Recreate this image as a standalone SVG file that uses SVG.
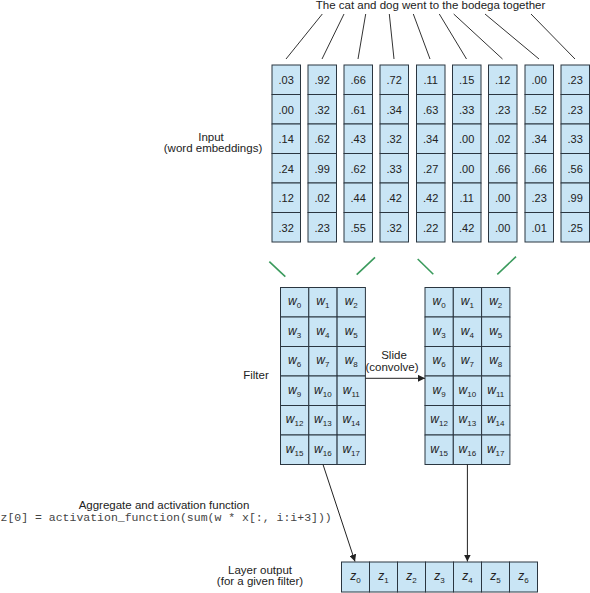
<svg xmlns="http://www.w3.org/2000/svg" width="590" height="593" viewBox="0 0 590 593">
<defs>
<style>
.bg{fill:#ffffff}
.cell{fill:#c9e5f5;stroke:#2b3640;stroke-width:1}
.t{font-family:"Liberation Sans",Arial,sans-serif;font-size:11.5px;fill:#222;text-anchor:middle}
.num{font-family:"Liberation Sans",Arial,sans-serif;font-size:11px;fill:#222;text-anchor:middle}
.w{font-family:"Liberation Sans",Arial,sans-serif;font-size:12px;font-style:italic;fill:#222;text-anchor:middle}
.sub{font-size:8px;font-style:normal}
.code{font-family:"Liberation Mono","Courier New",monospace;font-size:11.5px;fill:#444;text-anchor:start}
.ln{stroke:#333;stroke-width:1;fill:none}
.gr{stroke:#3a9a5c;stroke-width:1.6;fill:none}
.arr{stroke:#222;stroke-width:1;fill:none;marker-end:url(#ah)}
</style>
<marker id="ah" viewBox="0 0 10 10" refX="10" refY="5" markerWidth="7" markerHeight="7" markerUnits="userSpaceOnUse" orient="auto">
<path d="M0,0 L10,5 L0,10 z" fill="#222"/>
</marker>
</defs>
<rect class="bg" x="0" y="0" width="590" height="593"/>

<g id="sentence">
<text class="t" x="430.5" y="9">The cat and dog went to the bodega together</text>
</g>

<g id="input-label">
<text class="t" x="211" y="141">Input</text>
<text class="t" x="213" y="152">(word embeddings)</text>
</g>

<g id="input-embeddings">
<g id="word-the">
<rect class="cell" x="272" y="65" width="28.5" height="29.5"/><rect class="cell" x="272" y="94.5" width="28.5" height="29.5"/><rect class="cell" x="272" y="124" width="28.5" height="29.5"/><rect class="cell" x="272" y="153.5" width="28.5" height="29.5"/><rect class="cell" x="272" y="183" width="28.5" height="29.5"/><rect class="cell" x="272" y="212.5" width="28.5" height="29.5"/>
<text class="num" x="286.2" y="84">.03</text><text class="num" x="286.2" y="113.5">.00</text><text class="num" x="286.2" y="143">.14</text><text class="num" x="286.2" y="172.5">.24</text><text class="num" x="286.2" y="202">.12</text><text class="num" x="286.2" y="231.5">.32</text>
</g>
<g id="word-cat">
<rect class="cell" x="308" y="65" width="28.5" height="29.5"/><rect class="cell" x="308" y="94.5" width="28.5" height="29.5"/><rect class="cell" x="308" y="124" width="28.5" height="29.5"/><rect class="cell" x="308" y="153.5" width="28.5" height="29.5"/><rect class="cell" x="308" y="183" width="28.5" height="29.5"/><rect class="cell" x="308" y="212.5" width="28.5" height="29.5"/>
<text class="num" x="322.2" y="84">.92</text><text class="num" x="322.2" y="113.5">.32</text><text class="num" x="322.2" y="143">.62</text><text class="num" x="322.2" y="172.5">.99</text><text class="num" x="322.2" y="202">.02</text><text class="num" x="322.2" y="231.5">.23</text>
</g>
<g id="word-and">
<rect class="cell" x="344" y="65" width="28.5" height="29.5"/><rect class="cell" x="344" y="94.5" width="28.5" height="29.5"/><rect class="cell" x="344" y="124" width="28.5" height="29.5"/><rect class="cell" x="344" y="153.5" width="28.5" height="29.5"/><rect class="cell" x="344" y="183" width="28.5" height="29.5"/><rect class="cell" x="344" y="212.5" width="28.5" height="29.5"/>
<text class="num" x="358.2" y="84">.66</text><text class="num" x="358.2" y="113.5">.61</text><text class="num" x="358.2" y="143">.43</text><text class="num" x="358.2" y="172.5">.62</text><text class="num" x="358.2" y="202">.44</text><text class="num" x="358.2" y="231.5">.55</text>
</g>
<g id="word-dog">
<rect class="cell" x="380" y="65" width="28.5" height="29.5"/><rect class="cell" x="380" y="94.5" width="28.5" height="29.5"/><rect class="cell" x="380" y="124" width="28.5" height="29.5"/><rect class="cell" x="380" y="153.5" width="28.5" height="29.5"/><rect class="cell" x="380" y="183" width="28.5" height="29.5"/><rect class="cell" x="380" y="212.5" width="28.5" height="29.5"/>
<text class="num" x="394.2" y="84">.72</text><text class="num" x="394.2" y="113.5">.34</text><text class="num" x="394.2" y="143">.32</text><text class="num" x="394.2" y="172.5">.33</text><text class="num" x="394.2" y="202">.42</text><text class="num" x="394.2" y="231.5">.32</text>
</g>
<g id="word-went">
<rect class="cell" x="416.5" y="65" width="28.5" height="29.5"/><rect class="cell" x="416.5" y="94.5" width="28.5" height="29.5"/><rect class="cell" x="416.5" y="124" width="28.5" height="29.5"/><rect class="cell" x="416.5" y="153.5" width="28.5" height="29.5"/><rect class="cell" x="416.5" y="183" width="28.5" height="29.5"/><rect class="cell" x="416.5" y="212.5" width="28.5" height="29.5"/>
<text class="num" x="430.7" y="84">.11</text><text class="num" x="430.7" y="113.5">.63</text><text class="num" x="430.7" y="143">.34</text><text class="num" x="430.7" y="172.5">.27</text><text class="num" x="430.7" y="202">.42</text><text class="num" x="430.7" y="231.5">.22</text>
</g>
<g id="word-to">
<rect class="cell" x="452.5" y="65" width="28.5" height="29.5"/><rect class="cell" x="452.5" y="94.5" width="28.5" height="29.5"/><rect class="cell" x="452.5" y="124" width="28.5" height="29.5"/><rect class="cell" x="452.5" y="153.5" width="28.5" height="29.5"/><rect class="cell" x="452.5" y="183" width="28.5" height="29.5"/><rect class="cell" x="452.5" y="212.5" width="28.5" height="29.5"/>
<text class="num" x="466.7" y="84">.15</text><text class="num" x="466.7" y="113.5">.33</text><text class="num" x="466.7" y="143">.00</text><text class="num" x="466.7" y="172.5">.00</text><text class="num" x="466.7" y="202">.11</text><text class="num" x="466.7" y="231.5">.42</text>
</g>
<g id="word-the2">
<rect class="cell" x="488.5" y="65" width="28.5" height="29.5"/><rect class="cell" x="488.5" y="94.5" width="28.5" height="29.5"/><rect class="cell" x="488.5" y="124" width="28.5" height="29.5"/><rect class="cell" x="488.5" y="153.5" width="28.5" height="29.5"/><rect class="cell" x="488.5" y="183" width="28.5" height="29.5"/><rect class="cell" x="488.5" y="212.5" width="28.5" height="29.5"/>
<text class="num" x="502.7" y="84">.12</text><text class="num" x="502.7" y="113.5">.23</text><text class="num" x="502.7" y="143">.02</text><text class="num" x="502.7" y="172.5">.66</text><text class="num" x="502.7" y="202">.00</text><text class="num" x="502.7" y="231.5">.00</text>
</g>
<g id="word-bodega">
<rect class="cell" x="525" y="65" width="28.5" height="29.5"/><rect class="cell" x="525" y="94.5" width="28.5" height="29.5"/><rect class="cell" x="525" y="124" width="28.5" height="29.5"/><rect class="cell" x="525" y="153.5" width="28.5" height="29.5"/><rect class="cell" x="525" y="183" width="28.5" height="29.5"/><rect class="cell" x="525" y="212.5" width="28.5" height="29.5"/>
<text class="num" x="539.2" y="84">.00</text><text class="num" x="539.2" y="113.5">.52</text><text class="num" x="539.2" y="143">.34</text><text class="num" x="539.2" y="172.5">.66</text><text class="num" x="539.2" y="202">.23</text><text class="num" x="539.2" y="231.5">.01</text>
</g>
<g id="word-together">
<rect class="cell" x="561" y="65" width="28.5" height="29.5"/><rect class="cell" x="561" y="94.5" width="28.5" height="29.5"/><rect class="cell" x="561" y="124" width="28.5" height="29.5"/><rect class="cell" x="561" y="153.5" width="28.5" height="29.5"/><rect class="cell" x="561" y="183" width="28.5" height="29.5"/><rect class="cell" x="561" y="212.5" width="28.5" height="29.5"/>
<text class="num" x="575.2" y="84">.23</text><text class="num" x="575.2" y="113.5">.23</text><text class="num" x="575.2" y="143">.33</text><text class="num" x="575.2" y="172.5">.56</text><text class="num" x="575.2" y="202">.99</text><text class="num" x="575.2" y="231.5">.25</text>
</g>
</g>

<g id="filter-label">
<text class="t" x="256" y="379">Filter</text>
</g>

<g id="filter-1">
<rect class="cell" x="280.5" y="287.5" width="28.3" height="29.5"/><rect class="cell" x="308.8" y="287.5" width="28.3" height="29.5"/><rect class="cell" x="337.1" y="287.5" width="28.3" height="29.5"/>
<rect class="cell" x="280.5" y="317" width="28.3" height="29.5"/><rect class="cell" x="308.8" y="317" width="28.3" height="29.5"/><rect class="cell" x="337.1" y="317" width="28.3" height="29.5"/>
<rect class="cell" x="280.5" y="346.5" width="28.3" height="29.5"/><rect class="cell" x="308.8" y="346.5" width="28.3" height="29.5"/><rect class="cell" x="337.1" y="346.5" width="28.3" height="29.5"/>
<rect class="cell" x="280.5" y="376" width="28.3" height="29.5"/><rect class="cell" x="308.8" y="376" width="28.3" height="29.5"/><rect class="cell" x="337.1" y="376" width="28.3" height="29.5"/>
<rect class="cell" x="280.5" y="405.5" width="28.3" height="29.5"/><rect class="cell" x="308.8" y="405.5" width="28.3" height="29.5"/><rect class="cell" x="337.1" y="405.5" width="28.3" height="29.5"/>
<rect class="cell" x="280.5" y="435" width="28.3" height="29.5"/><rect class="cell" x="308.8" y="435" width="28.3" height="29.5"/><rect class="cell" x="337.1" y="435" width="28.3" height="29.5"/>
<text class="w" x="294.6" y="305">w<tspan class="sub" dy="3">0</tspan></text><text class="w" x="322.9" y="305">w<tspan class="sub" dy="3">1</tspan></text><text class="w" x="351.2" y="305">w<tspan class="sub" dy="3">2</tspan></text>
<text class="w" x="294.6" y="334.5">w<tspan class="sub" dy="3">3</tspan></text><text class="w" x="322.9" y="334.5">w<tspan class="sub" dy="3">4</tspan></text><text class="w" x="351.2" y="334.5">w<tspan class="sub" dy="3">5</tspan></text>
<text class="w" x="294.6" y="364">w<tspan class="sub" dy="3">6</tspan></text><text class="w" x="322.9" y="364">w<tspan class="sub" dy="3">7</tspan></text><text class="w" x="351.2" y="364">w<tspan class="sub" dy="3">8</tspan></text>
<text class="w" x="294.6" y="393.5">w<tspan class="sub" dy="3">9</tspan></text><text class="w" x="322.9" y="393.5">w<tspan class="sub" dy="3">10</tspan></text><text class="w" x="351.2" y="393.5">w<tspan class="sub" dy="3">11</tspan></text>
<text class="w" x="294.6" y="423">w<tspan class="sub" dy="3">12</tspan></text><text class="w" x="322.9" y="423">w<tspan class="sub" dy="3">13</tspan></text><text class="w" x="351.2" y="423">w<tspan class="sub" dy="3">14</tspan></text>
<text class="w" x="294.6" y="452.5">w<tspan class="sub" dy="3">15</tspan></text><text class="w" x="322.9" y="452.5">w<tspan class="sub" dy="3">16</tspan></text><text class="w" x="351.2" y="452.5">w<tspan class="sub" dy="3">17</tspan></text>
</g>

<g id="filter-2">
<rect class="cell" x="425" y="287.5" width="28.3" height="29.5"/><rect class="cell" x="453.3" y="287.5" width="28.3" height="29.5"/><rect class="cell" x="481.6" y="287.5" width="28.3" height="29.5"/>
<rect class="cell" x="425" y="317" width="28.3" height="29.5"/><rect class="cell" x="453.3" y="317" width="28.3" height="29.5"/><rect class="cell" x="481.6" y="317" width="28.3" height="29.5"/>
<rect class="cell" x="425" y="346.5" width="28.3" height="29.5"/><rect class="cell" x="453.3" y="346.5" width="28.3" height="29.5"/><rect class="cell" x="481.6" y="346.5" width="28.3" height="29.5"/>
<rect class="cell" x="425" y="376" width="28.3" height="29.5"/><rect class="cell" x="453.3" y="376" width="28.3" height="29.5"/><rect class="cell" x="481.6" y="376" width="28.3" height="29.5"/>
<rect class="cell" x="425" y="405.5" width="28.3" height="29.5"/><rect class="cell" x="453.3" y="405.5" width="28.3" height="29.5"/><rect class="cell" x="481.6" y="405.5" width="28.3" height="29.5"/>
<rect class="cell" x="425" y="435" width="28.3" height="29.5"/><rect class="cell" x="453.3" y="435" width="28.3" height="29.5"/><rect class="cell" x="481.6" y="435" width="28.3" height="29.5"/>
<text class="w" x="439.1" y="305">w<tspan class="sub" dy="3">0</tspan></text><text class="w" x="467.4" y="305">w<tspan class="sub" dy="3">1</tspan></text><text class="w" x="495.7" y="305">w<tspan class="sub" dy="3">2</tspan></text>
<text class="w" x="439.1" y="334.5">w<tspan class="sub" dy="3">3</tspan></text><text class="w" x="467.4" y="334.5">w<tspan class="sub" dy="3">4</tspan></text><text class="w" x="495.7" y="334.5">w<tspan class="sub" dy="3">5</tspan></text>
<text class="w" x="439.1" y="364">w<tspan class="sub" dy="3">6</tspan></text><text class="w" x="467.4" y="364">w<tspan class="sub" dy="3">7</tspan></text><text class="w" x="495.7" y="364">w<tspan class="sub" dy="3">8</tspan></text>
<text class="w" x="439.1" y="393.5">w<tspan class="sub" dy="3">9</tspan></text><text class="w" x="467.4" y="393.5">w<tspan class="sub" dy="3">10</tspan></text><text class="w" x="495.7" y="393.5">w<tspan class="sub" dy="3">11</tspan></text>
<text class="w" x="439.1" y="423">w<tspan class="sub" dy="3">12</tspan></text><text class="w" x="467.4" y="423">w<tspan class="sub" dy="3">13</tspan></text><text class="w" x="495.7" y="423">w<tspan class="sub" dy="3">14</tspan></text>
<text class="w" x="439.1" y="452.5">w<tspan class="sub" dy="3">15</tspan></text><text class="w" x="467.4" y="452.5">w<tspan class="sub" dy="3">16</tspan></text><text class="w" x="495.7" y="452.5">w<tspan class="sub" dy="3">17</tspan></text>
</g>

<g id="aggregate-label">
<text class="t" x="164" y="508.5">Aggregate and activation function</text>
<text class="code" x="0.5" y="521">z[0] = activation_function(sum(w * x[:, i:i+3]))</text>
</g>

<g id="output-label">
<text class="t" x="260" y="573.5">Layer output</text>
<text class="t" x="260" y="584.5">(for a given filter)</text>
</g>

<g id="layer-output">
<rect class="cell" x="341.5" y="562" width="28" height="30"/><rect class="cell" x="369.5" y="562" width="28" height="30"/><rect class="cell" x="397.5" y="562" width="28" height="30"/><rect class="cell" x="425.5" y="562" width="28" height="30"/><rect class="cell" x="453.5" y="562" width="28" height="30"/><rect class="cell" x="481.5" y="562" width="28" height="30"/><rect class="cell" x="509.5" y="562" width="28" height="30"/>
<text class="w" x="355.5" y="580">z<tspan class="sub" dy="3">0</tspan></text><text class="w" x="383.5" y="580">z<tspan class="sub" dy="3">1</tspan></text><text class="w" x="411.5" y="580">z<tspan class="sub" dy="3">2</tspan></text><text class="w" x="439.5" y="580">z<tspan class="sub" dy="3">3</tspan></text><text class="w" x="467.5" y="580">z<tspan class="sub" dy="3">4</tspan></text><text class="w" x="495.5" y="580">z<tspan class="sub" dy="3">5</tspan></text><text class="w" x="523.5" y="580">z<tspan class="sub" dy="3">6</tspan></text>
</g>

<g id="connectors">
<line class="ln" x1="322.3" y1="14" x2="286" y2="59"/>
<line class="ln" x1="344" y1="14" x2="322" y2="59"/>
<line class="ln" x1="365.7" y1="14" x2="358" y2="59"/>
<line class="ln" x1="389.3" y1="14" x2="394" y2="59"/>
<line class="ln" x1="413.3" y1="14" x2="430" y2="59"/>
<line class="ln" x1="439.3" y1="14" x2="466.5" y2="59"/>
<line class="ln" x1="453.7" y1="14" x2="502.5" y2="59"/>
<line class="ln" x1="485" y1="14" x2="539" y2="59"/>
<line class="ln" x1="531" y1="14" x2="575" y2="59"/>
<line class="gr" x1="269.3" y1="261.7" x2="285.3" y2="276.7"/>
<line class="gr" x1="375" y1="257.3" x2="356.7" y2="274.7"/>
<line class="gr" x1="417.7" y1="259" x2="433.3" y2="274.3"/>
<line class="gr" x1="516" y1="256.7" x2="497.3" y2="274.3"/>
<line class="arr" x1="365.4" y1="378.3" x2="425" y2="378.3"/>
<line class="arr" x1="323" y1="464.5" x2="355" y2="561.5"/>
<line class="arr" x1="467.4" y1="464.5" x2="467.4" y2="561.5"/>
</g>
<g id="slide-label">
<text class="t" x="394" y="359">Slide</text>
<text class="t" x="392" y="371">(convolve)</text>
</g>
</svg>
